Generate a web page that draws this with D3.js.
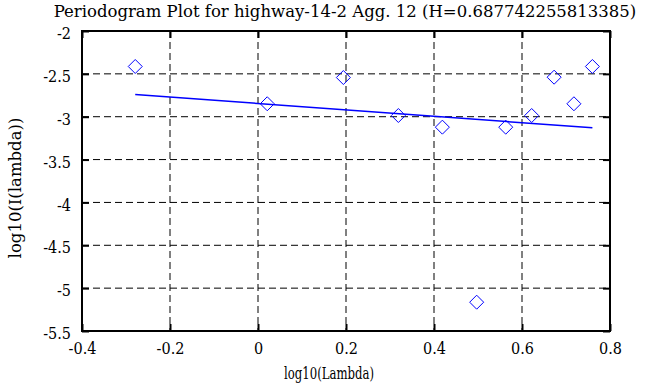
<!DOCTYPE html>
<html>
<head>
<meta charset="utf-8">
<script src="https://cdn.jsdelivr.net/npm/d3@7"></script>
<style>
  body { margin: 0; background: #fff; }
</style>
</head>
<body>
<div id="chart"></div>
<script>
// periodogram points, log10 of frequency vs log10 of periodogram value
const logLambda = [-0.279, 0.021, 0.194, 0.319, 0.419, 0.497, 0.563, 0.622, 0.673, 0.718, 0.760];
const logI = [-2.414, -2.849, -2.543, -2.986, -3.122, -5.164, -3.122, -2.986, -2.539, -2.849, -2.414];

// least squares fit, end points
const fitX = [-0.279, 0.760];
const fitY = [-2.741, -3.130];

const xTicks = [-0.4, -0.2, 0, 0.2, 0.4, 0.6, 0.8];
const yTicks = [-2, -2.5, -3, -3.5, -4, -4.5, -5, -5.5];

const titleText = "Periodogram Plot for highway-14-2 Agg. 12 (H=0.687742255813385)";
const xLabel = "log10(Lambda)";
const yLabel = "log10(I(lambda))";

const serif = "DejaVu Serif";
const squeeze = 0.85; // the original text is narrow and tall

const W = 668, H = 387;
const margin = { top: 31, right: 58, bottom: 56, left: 82 },
  width = W - margin.left - margin.right,
  height = H - margin.top - margin.bottom;

const root = d3.select("#chart").append("svg")
  .attr("width", W)
  .attr("height", H)
  .attr("font-family", serif);

const svg = root.append("g")
  .attr("transform", `translate(${margin.left},${margin.top})`);

const x = d3.scaleLinear().domain([-0.4, 0.8]).range([0, width]);
const y = d3.scaleLinear().domain([-5.5, -2]).range([height, 0]);

// dashed grid
svg.append("g").selectAll("line").data(xTicks).join("line")
  .attr("x1", d => x(d)).attr("x2", d => x(d))
  .attr("y1", 0).attr("y2", height)
  .attr("stroke", "#000").attr("stroke-dasharray", "7,4");
svg.append("g").selectAll("line").data(yTicks).join("line")
  .attr("y1", d => y(d)).attr("y2", d => y(d))
  .attr("x1", 0).attr("x2", width)
  .attr("stroke", "#000").attr("stroke-dasharray", "7,4");

const fmt = d => String(d);

// axes with inward ticks on all four sides
const xAxis = svg.append("g")
  .attr("transform", `translate(0,${height})`)
  .call(d3.axisBottom(x).tickValues(xTicks).tickFormat(fmt).tickSizeInner(-7).tickSizeOuter(0).tickPadding(11));
svg.append("g")
  .call(d3.axisTop(x).tickValues(xTicks).tickFormat("").tickSizeInner(-7).tickSizeOuter(0));
const yAxis = svg.append("g")
  .call(d3.axisLeft(y).tickValues(yTicks).tickFormat(fmt).tickSizeInner(-7).tickSizeOuter(0));
svg.append("g")
  .attr("transform", `translate(${width},0)`)
  .call(d3.axisRight(y).tickValues(yTicks).tickFormat("").tickSizeInner(-7).tickSizeOuter(0));

svg.selectAll(".domain").remove();
svg.selectAll("g").attr("font-family", serif);
svg.selectAll(".tick line").attr("stroke", "#000").attr("stroke-width", 2);
svg.selectAll(".tick text").attr("fill", "#000")
  .style("font-size", "17px")
  .attr("transform", `scale(${squeeze},1)`);
yAxis.selectAll("text").attr("x", -11 / squeeze).attr("dy", "0.45em");

// frame
svg.append("rect")
  .attr("width", width).attr("height", height)
  .attr("fill", "none").attr("stroke", "#000").attr("stroke-width", 2);

// fitted line
svg.append("line")
  .attr("x1", x(fitX[0])).attr("y1", y(fitY[0]))
  .attr("x2", x(fitX[1])).attr("y2", y(fitY[1]))
  .attr("stroke", "#0000ff").attr("stroke-width", 1.5);

// diamonds
svg.append("g").selectAll("path").data(logLambda).join("path")
  .attr("d", (d, i) => {
    const cx = x(d), cy = y(logI[i]), r = 7;
    return `M${cx},${cy - r}L${cx + r},${cy}L${cx},${cy + r}L${cx - r},${cy}Z`;
  })
  .attr("fill", "none").attr("stroke", "#0000ff").attr("stroke-width", 1);

// labels
root.append("text")
  .attr("x", 345).attr("y", 17)
  .attr("text-anchor", "middle").style("font-size", "16.5px")
  .text(titleText);
root.append("text")
  .attr("x", 329).attr("y", 379)
  .attr("text-anchor", "middle").style("font-size", "17.5px")
  .attr("textLength", 90).attr("lengthAdjust", "spacingAndGlyphs")
  .text(xLabel);
root.append("text")
  .attr("transform", "translate(21,188) rotate(-90)")
  .attr("text-anchor", "middle").style("font-size", "16.5px")
  .text(yLabel);
</script>
</body>
</html>
